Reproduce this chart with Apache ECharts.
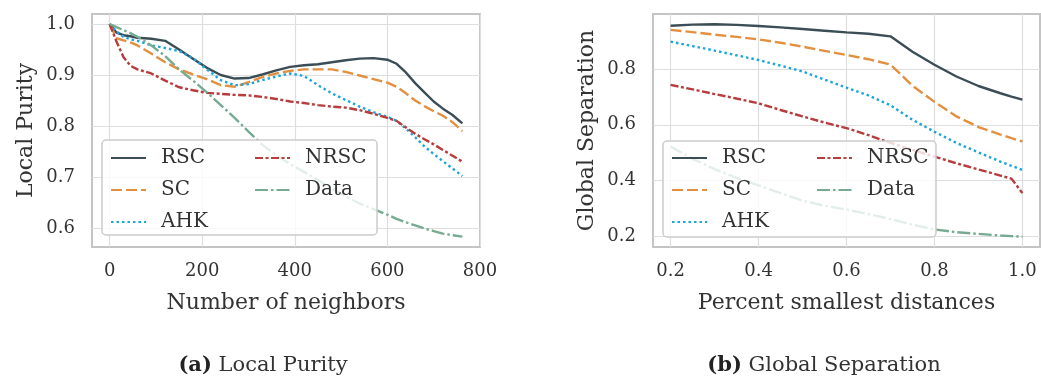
<!DOCTYPE html>
<html><head><meta charset="utf-8">
<script src="https://cdn.jsdelivr.net/npm/echarts@6/dist/echarts.min.js"></script>
<style>html,body{margin:0;padding:0;background:#fff}#c{width:1041px;height:379px}</style>
</head><body><div id="c"></div>
<script>
// ---- Local Purity (left) ----
const lpX    = [0, 15, 30, 45, 60, 90, 120, 150, 180, 210, 240, 270, 300, 330, 360, 390, 420, 450, 480, 510, 540, 570, 600, 620, 640, 660, 680, 700, 720, 740, 762];
const lpRSC  = [1.0, 0.983, 0.978, 0.976, 0.973, 0.971, 0.967, 0.950, 0.932, 0.914, 0.900, 0.893, 0.894, 0.901, 0.909, 0.916, 0.919, 0.921, 0.925, 0.929, 0.932, 0.933, 0.930, 0.922, 0.905, 0.884, 0.866, 0.848, 0.834, 0.822, 0.805];
const lpSC   = [1.0, 0.972, 0.968, 0.964, 0.958, 0.942, 0.925, 0.911, 0.901, 0.892, 0.880, 0.877, 0.886, 0.896, 0.903, 0.908, 0.911, 0.911, 0.911, 0.906, 0.899, 0.892, 0.885, 0.877, 0.864, 0.850, 0.839, 0.829, 0.820, 0.808, 0.790];
const lpAHK  = [1.0, 0.985, 0.975, 0.970, 0.967, 0.958, 0.953, 0.947, 0.933, 0.911, 0.890, 0.880, 0.882, 0.890, 0.897, 0.903, 0.898, 0.880, 0.864, 0.851, 0.838, 0.827, 0.818, 0.810, 0.795, 0.778, 0.760, 0.745, 0.731, 0.717, 0.702];
const lpNRSC = [1.0, 0.965, 0.935, 0.918, 0.911, 0.903, 0.889, 0.876, 0.870, 0.865, 0.863, 0.861, 0.860, 0.857, 0.853, 0.848, 0.845, 0.841, 0.838, 0.836, 0.831, 0.824, 0.816, 0.810, 0.797, 0.785, 0.774, 0.764, 0.753, 0.742, 0.730];
const lpData = [1.0, 0.994, 0.988, 0.982, 0.975, 0.958, 0.937, 0.911, 0.889, 0.866, 0.841, 0.816, 0.789, 0.763, 0.743, 0.725, 0.710, 0.694, 0.678, 0.662, 0.648, 0.637, 0.626, 0.618, 0.611, 0.605, 0.599, 0.594, 0.589, 0.586, 0.583];
const lpXTicks = [0, 200, 400, 600, 800];
const lpYTicks = [0.6, 0.7, 0.8, 0.9, 1.0];

// ---- Global Separation (right) ----
const gsX    = [0.2, 0.25, 0.3, 0.35, 0.4, 0.45, 0.5, 0.55, 0.6, 0.65, 0.7, 0.75, 0.8, 0.85, 0.9, 0.95, 0.975, 1.0];
const gsRSC  = [0.955, 0.959, 0.960, 0.958, 0.954, 0.949, 0.943, 0.937, 0.931, 0.926, 0.917, 0.862, 0.815, 0.773, 0.739, 0.713, 0.701, 0.690];
const gsSC   = [0.940, 0.932, 0.923, 0.915, 0.906, 0.894, 0.880, 0.865, 0.850, 0.835, 0.816, 0.740, 0.682, 0.630, 0.592, 0.565, 0.552, 0.540];
const gsAHK  = [0.898, 0.882, 0.866, 0.849, 0.832, 0.812, 0.791, 0.762, 0.733, 0.705, 0.670, 0.618, 0.575, 0.535, 0.501, 0.468, 0.453, 0.438];
const gsNRSC = [0.743, 0.727, 0.710, 0.694, 0.677, 0.653, 0.630, 0.608, 0.588, 0.563, 0.535, 0.510, 0.486, 0.462, 0.440, 0.418, 0.407, 0.355];
const gsData = [0.522, 0.478, 0.441, 0.410, 0.383, 0.355, 0.328, 0.310, 0.296, 0.280, 0.262, 0.242, 0.225, 0.215, 0.209, 0.203, 0.201, 0.199];
const gsXTicks = [0.2, 0.4, 0.6, 0.8, 1.0];
const gsYTicks = [0.2, 0.4, 0.6, 0.8];

const names = ['RSC', 'SC', 'AHK', 'NRSC', 'Data'];

const FONT = 'DejaVu Serif';
const TXT = '#333333';
const styles = {
  RSC:  { color: '#3b4d56', type: 'solid' },
  SC:   { color: '#e29040', type: [11, 4] },
  AHK:  { color: '#1aa5dc', type: [2.5, 3] },
  NRSC: { color: '#b63c3d', type: [8, 2.5, 3, 2.5] },
  Data: { color: '#76ab92', type: [13, 3, 2.5, 3] }
};

function pairs(xs, ys) { return xs.map((x, i) => [x, ys[i]]); }
function mkSeries(name, xs, ys, idx) {
  const s = styles[name];
  return {
    name, type: 'line', xAxisIndex: idx, yAxisIndex: idx,
    data: pairs(xs, ys), symbol: 'none', showSymbol: false, smooth: false,
    lineStyle: { color: s.color, width: 2.4, type: s.type },
    itemStyle: { color: s.color }, animation: false, z: 2
  };
}

const series = [
  mkSeries('RSC', lpX, lpRSC, 0), mkSeries('SC', lpX, lpSC, 0), mkSeries('AHK', lpX, lpAHK, 0),
  mkSeries('NRSC', lpX, lpNRSC, 0), mkSeries('Data', lpX, lpData, 0),
  mkSeries('RSC', gsX, gsRSC, 1), mkSeries('SC', gsX, gsSC, 1), mkSeries('AHK', gsX, gsAHK, 1),
  mkSeries('NRSC', gsX, gsNRSC, 1), mkSeries('Data', gsX, gsData, 1)
];

function mkAxis(o) {
  return {
    gridIndex: o.grid, type: 'value', min: o.min, max: o.max,
    axisLine: { show: false },
    axisTick: { show: false, customValues: o.ticks },
    axisLabel: { customValues: o.ticks, margin: o.margin, fontSize: 18, fontFamily: FONT, color: TXT,
                 formatter: o.fmt },
    splitLine: { show: true, lineStyle: { color: '#dedede', width: 1.2 } },
    name: o.name, nameLocation: 'middle', nameGap: o.gap,
    nameTextStyle: { fontSize: 22, fontFamily: FONT, color: TXT }
  };
}

function mkLegend(items, left, top) {
  return {
    data: items.map(n => ({ name: n })), orient: 'vertical', left, top,
    itemWidth: 35, itemHeight: 14, itemGap: 12, padding: 0, selectedMode: false,
    backgroundColor: 'transparent',
    itemStyle: { color: 'rgba(0,0,0,0)', borderWidth: 0, opacity: 0 },
    textStyle: { fontFamily: FONT, fontSize: 20, color: TXT, lineHeight: 18, padding: [0, 0, 0, 10] }
  };
}

const option = {
  backgroundColor: '#ffffff',
  animation: false,
  grid: [
    { left: 92, right: 561, top: 14, bottom: 132, show: true, borderColor: '#c4c4c4', borderWidth: 2, backgroundColor: 'transparent' },
    { left: 653, right: 1, top: 14, bottom: 132, show: true, borderColor: '#c4c4c4', borderWidth: 2, backgroundColor: 'transparent' }
  ],
  xAxis: [
    mkAxis({ grid: 0, min: -38.1, max: 800.1, ticks: lpXTicks, margin: 15, fmt: v => String(v), name: 'Number of neighbors', gap: 45 }),
    mkAxis({ grid: 1, min: 0.16, max: 1.04, ticks: gsXTicks, margin: 15, fmt: v => v.toFixed(1), name: 'Percent smallest distances', gap: 45 })
  ],
  yAxis: [
    mkAxis({ grid: 0, min: 0.5627, max: 1.0196, ticks: lpYTicks, margin: 17, fmt: v => v.toFixed(1), name: 'Local Purity', gap: 55 }),
    mkAxis({ grid: 1, min: 0.162, max: 0.997, ticks: gsYTicks, margin: 17, fmt: v => v.toFixed(1), name: 'Global Separation', gap: 55 })
  ],
  legend: [
    mkLegend(['RSC', 'SC', 'AHK'], 110, 148),
    mkLegend(['NRSC', 'Data'], 254, 148),
    mkLegend(['RSC', 'SC', 'AHK'], 671, 148),
    mkLegend(['NRSC', 'Data'], 816, 148)
  ],
  graphic: [
    { type: 'rect', z: 3, shape: { x: 102, y: 140, width: 275, height: 95, r: 4 },
      style: { fill: 'rgba(255,255,255,0.8)', stroke: '#cccccc', lineWidth: 1.5 } },
    { type: 'rect', z: 3, shape: { x: 663, y: 141, width: 273, height: 96, r: 4 },
      style: { fill: 'rgba(255,255,255,0.8)', stroke: '#cccccc', lineWidth: 1.5 } },
    { type: 'text', z: 5, x: 263, y: 366,
      style: { text: '{b|(a)} Local Purity', fill: TXT, fontSize: 21, fontFamily: FONT,
               align: 'center', verticalAlign: 'middle', textAlign: 'center', textVerticalAlign: 'middle',
               rich: { b: { fontWeight: 'bold', fontSize: 21, fontFamily: FONT, fill: '#222' } } } },
    { type: 'text', z: 5, x: 824, y: 366,
      style: { text: '{b|(b)} Global Separation', fill: TXT, fontSize: 21, fontFamily: FONT,
               align: 'center', verticalAlign: 'middle', textAlign: 'center', textVerticalAlign: 'middle',
               rich: { b: { fontWeight: 'bold', fontSize: 21, fontFamily: FONT, fill: '#222' } } } }
  ],
  series
};

const chart = echarts.init(document.getElementById('c'), null, { renderer: 'canvas' });
chart.setOption(option);
</script>
</body></html>
